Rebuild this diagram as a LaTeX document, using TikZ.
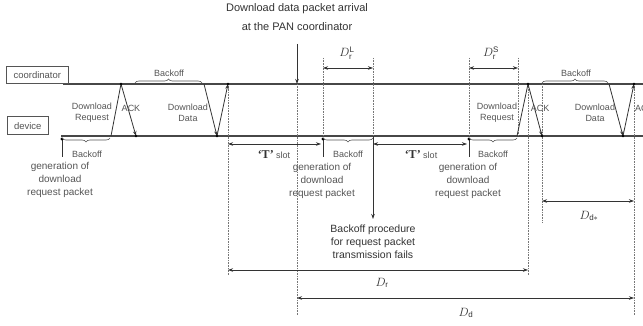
\documentclass[tikz,border=0pt]{standalone}
\usepackage{fontspec}
\setmainfont{Liberation Sans}
\setsansfont{Liberation Sans}
\newfontfamily\serifT{Liberation Serif}
\usetikzlibrary{arrows.meta,decorations.pathreplacing}
\definecolor{ink}{HTML}{333333}
\definecolor{soft}{HTML}{555555}
\definecolor{dotc}{HTML}{777777}
\begin{document}
\begin{tikzpicture}[x=1pt,y=-1pt,
  tl/.style={draw=ink!90!white, line width=1.5pt},
  msg/.style={draw=ink, line width=0.8pt},
  tip/.style={-{Stealth[length=5pt,width=3.5pt]}},
  dim/.style={draw=ink, line width=0.6pt, {Stealth[length=5pt,width=3.5pt]}-{Stealth[length=5pt,width=3.5pt]}},
  vguide/.style={draw=dotc, line width=0.6pt, densely dotted},
  box/.style={draw=soft, line width=0.6pt, fill=white, inner sep=0pt, text=soft, font=\fontsize{9.5}{10}\selectfont},
  lbl/.style={inner sep=0pt, text=soft, align=center, font=\fontsize{9}{11}\selectfont},
  gen/.style={inner sep=0pt, text=soft, align=center, font=\fontsize{10}{13}\selectfont},
  big/.style={inner sep=0pt, text=ink, align=center, font=\fontsize{10.5}{13}\selectfont},
  dlab/.style={inner sep=0pt, text=ink, font=\fontsize{12}{12}\selectfont},
  brc/.style={draw=soft, line width=0.6pt, decorate, decoration={brace, amplitude=4pt}},
  brcm/.style={draw=soft, line width=0.6pt, decorate, decoration={brace, amplitude=4pt, mirror}},
  dot/.style={fill=black}
]
\clip (0,0) rectangle (643,326);
\fill[white] (0,0) rectangle (643,326);

% ---- timelines
\coordinate (cL) at (63,84); \coordinate (cR) at (645,84);
\coordinate (dL) at (61,136); \coordinate (dR) at (645,136);
\draw[tl] (cL) -- (cR);
\draw[tl] (dL) -- (dR);
\node[box, minimum width=62pt, minimum height=17pt, anchor=south west] (coordbox) at (6,84) {coordinator};
\node[box, minimum width=41pt, minimum height=18pt, anchor=south west] (devbox) at (7,135) {device};

% ---- top arrival arrow
\node[big, font=\fontsize{11}{13}\selectfont] (arr1) at (297,9) {Download data packet arrival};
\node[big, font=\fontsize{11}{13}\selectfont] (arr2) at (297,27) {at the PAN coordinator};
\coordinate (arrtop) at (297,44);
\coordinate (arrbot) at (297,84);
\draw[msg, line width=1pt, tip] (arrtop) -- (arrbot);

% ---- key points
\coordinate (r1b) at (111,136); \coordinate (r1t) at (121,84);
\coordinate (a1b) at (136,136);
\coordinate (d1t) at (204,84);  \coordinate (d1b) at (217,136);
\coordinate (a2t) at (228,84);
\coordinate (r2b) at (517,136); \coordinate (r2t) at (528,84);
\coordinate (a3b) at (542,136);
\coordinate (d2t) at (609,84);  \coordinate (d2b) at (623,136);
\coordinate (a4t) at (634,84);

% ---- dotted guides
\coordinate (g228b) at (228,275); \draw[vguide] (a2t) -- (g228b);
\coordinate (g297b) at (297,315); \draw[vguide] (arrbot) -- (g297b);
\coordinate (g323t) at (323,58);  \coordinate (g323b) at (323,136); \draw[vguide] (g323t) -- (g323b);
\coordinate (g373t) at (373,58);  \coordinate (g373b) at (373,136); \draw[vguide] (g373t) -- (g373b);
\coordinate (g469t) at (469,58);  \coordinate (g469b) at (469,136); \draw[vguide] (g469t) -- (g469b);
\coordinate (g518t) at (518,58);  \coordinate (g518b) at (518,136); \draw[vguide] (g518t) -- (g518b);
\coordinate (g528b) at (528,275); \draw[vguide] (r2t) -- (g528b);
\coordinate (g542t) at (542,84); \coordinate (g542b) at (542,223); \draw[vguide] (g542t) -- (g542b);
\coordinate (g634b) at (634,315); \draw[vguide] (a4t) -- (g634b);

% ---- messages, first exchange
\draw[msg] (r1b) -- (r1t);
\draw[msg, tip] (r1t) -- (a1b);
\draw[msg, tip] (d1t) -- (d1b);
\draw[msg, tip] (d1b) -- (a2t);
% ---- messages, second exchange
\draw[msg] (r2b) -- (r2t);
\draw[msg, tip] (r2t) -- (a3b);
\draw[msg, tip] (d2t) -- (d2b);
\draw[msg, tip] (d2b) -- (a4t);
\foreach \p in {r1t,a1b,d1b,a2t,r2t,a3b,d2b,a4t} \fill[dot] (\p) circle (1.4pt);

% ---- message labels
\node[lbl] (lreq1) at (92,112.5) {Download\\Request};
\node[lbl] (lack1) at (131,108) {ACK};
\node[lbl] (ldat1) at (188,112.5) {Download\\Data};
\node[lbl] (lreq2) at (497,112.5) {Download\\Request};
\node[lbl] (lack2) at (540,108) {ACK};
\node[lbl] (ldat2) at (595,112.5) {Download\\Data};
\node[lbl, anchor=west] (lack3) at (635,108) {ACK};

% ---- top backoff braces
\coordinate (tb1a) at (135,83); \coordinate (tb1b) at (202,83);
\draw[brc] (tb1a) -- (tb1b);
\node[lbl] (tbl1) at (169,73) {Backoff};
\coordinate (tb2a) at (542,83); \coordinate (tb2b) at (608,83);
\draw[brc] (tb2a) -- (tb2b);
\node[lbl] (tbl2) at (576,73) {Backoff};

% ---- generation markers and bottom braces
\foreach \x/\n in {62/1,323/2,469/3} {
  \coordinate (gd\n) at (\x,139);
  \coordinate (gt\n) at (\x,157);
  \draw[msg, line width=0.6pt] (gd\n) -- (gt\n);
  \fill[dot] (gd\n) circle (1.6pt);
}
\coordinate (bb1a) at (62,138);  \coordinate (bb1b) at (110,138);
\coordinate (bb2a) at (323,138); \coordinate (bb2b) at (373,138);
\coordinate (bb3a) at (469,138); \coordinate (bb3b) at (517,138);
\draw[brcm] (bb1a) -- (bb1b);
\draw[brcm] (bb2a) -- (bb2b);
\draw[brcm] (bb3a) -- (bb3b);
\node[lbl] (bbl1) at (87,154) {Backoff};
\node[lbl] (bbl2) at (348,154) {Backoff};
\node[lbl] (bbl3) at (493,154) {Backoff};

\node[gen] (gen1) at (60,180) {generation of\\download\\request packet};
\node[gen] (gen2) at (322,181) {generation of\\download\\request packet};
\node[gen] (gen3) at (468,181) {generation of\\download\\request packet};

% ---- T' slots
\coordinate (ts1a) at (228,144); \coordinate (ts1b) at (321,144);
\coordinate (ts2a) at (373,144); \coordinate (ts2b) at (467,144);
\draw[dim] (ts1a) -- (ts1b);
\draw[dim] (ts2a) -- (ts2b);
\node[lbl] (tsl1) at (274,155) {{\serifT\bfseries\fontsize{12}{12}\selectfont\color{ink}‘T’}\ slot};
\node[lbl] (tsl2) at (421,155) {{\serifT\bfseries\fontsize{12}{12}\selectfont\color{ink}‘T’}\ slot};

% ---- failure arrow
\coordinate (fail) at (373,219);
\draw[msg, tip] (g373b) -- (fail);
\node[big] (failtxt) at (373,242) {Backoff procedure\\for request packet\\transmission fails};

% ---- delay dimensions
\coordinate (drl_a) at (323,68); \coordinate (drl_b) at (373,68);
\draw[dim] (drl_a) -- (drl_b);
\node[dlab] (drl) at (347,53) {$D_{\mathrm{r}}^{\mathrm{L}}$};
\coordinate (drs_a) at (469,68); \coordinate (drs_b) at (518,68);
\draw[dim] (drs_a) -- (drs_b);
\node[dlab] (drs) at (491,53) {$D_{\mathrm{r}}^{\mathrm{S}}$};
\coordinate (dds_a) at (542,201); \coordinate (dds_b) at (634,201);
\draw[dim] (dds_a) -- (dds_b);
\node[dlab] (dds) at (589,216) {$D_{\mathrm{d}*}$};
\coordinate (dr_a) at (228,270); \coordinate (dr_b) at (528,270);
\draw[dim] (dr_a) -- (dr_b);
\node[dlab] (dr) at (382,283) {$D_{\mathrm{r}}$};
\coordinate (dd_a) at (297,298); \coordinate (dd_b) at (634,298);
\draw[dim] (dd_a) -- (dd_b);
\node[dlab] (dd) at (466,313) {$D_{\mathrm{d}}$};
\end{tikzpicture}
\end{document}
